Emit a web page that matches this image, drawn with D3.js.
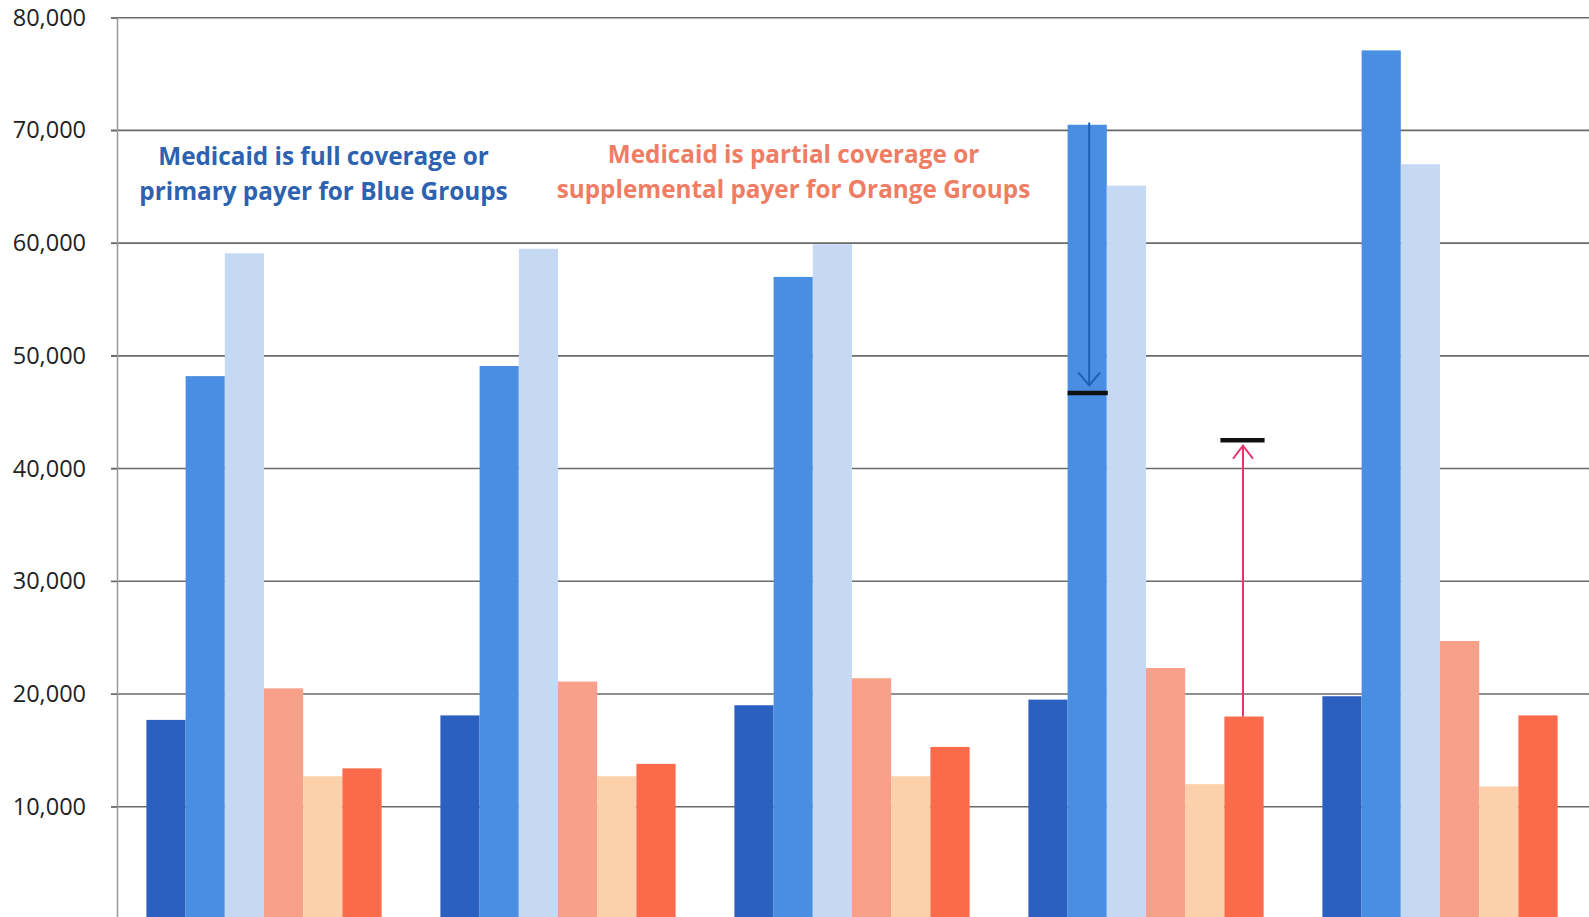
<!DOCTYPE html>
<html>
<head>
<meta charset="utf-8">
<script src="https://cdn.jsdelivr.net/npm/d3@7"></script>
<style>
  html, body { margin: 0; padding: 0; background: #fff; overflow: hidden; }
  svg { display: block; }
  .tick text { font-family: "Open Sans", sans-serif; font-size: 23.5px; fill: #222; }
  .note { font-family: "Open Sans", sans-serif; font-weight: 700; font-size: 24.3px; }
</style>
</head>
<body>
<svg id="chart" width="1589" height="917"></svg>
<script>
// groups along the x axis (labels are cut off in the source)
var groups = ["G1", "G2", "G3", "G4", "G5"];
var series = ["blue1", "blue2", "blue3", "orange1", "orange2", "orange3"];
var seriesColors = ["#2b5fc0", "#4a8ee3", "#c6d9f4", "#f9a08b", "#fcd0aa", "#fb6a4b"];

// values per series, one per group
var blue1 = [17700, 18100, 19000, 19500, 19800];
var blue2 = [48200, 49100, 57000, 70500, 77100];
var blue3 = [59100, 59500, 59900, 65100, 67000];
var orange1 = [20500, 21100, 21400, 22300, 24700];
var orange2 = [12700, 12700, 12700, 12000, 11800];
var orange3 = [13400, 13800, 15300, 18000, 18100];
var values = [blue1, blue2, blue3, orange1, orange2, orange3];

// the 0 label sits below the visible edge in the source
var yTicks = [10000, 20000, 30000, 40000, 50000, 60000, 70000, 80000];

// hand drawn marks on the 4th group
var blueArrowFrom = 70700, blueArrowTo = 46700;
var redArrowFrom = 18000, redArrowTo = 42500;

var svg = d3.select("#chart");

var x = d3.scaleBand().domain(groups).range([117, 1587])
    .paddingInner(0.2).paddingOuter(0.1);
var xs = d3.scaleBand().domain(series).range([0, x.bandwidth()]);
var y = d3.scaleLinear().domain([0, 80000]).range([919.4, 17.7]);

// gridlines
svg.append("g")
    .selectAll("line")
    .data(yTicks)
    .join("line")
    .attr("x1", 111)
    .attr("x2", 1589)
    .attr("y1", function (d) { return y(d); })
    .attr("y2", function (d) { return y(d); })
    .attr("stroke", "#6a6a6a")
    .attr("stroke-width", 1.6);

// y axis
var yAxis = svg.append("g")
    .attr("transform", "translate(117,0)")
    .call(d3.axisLeft(y).tickValues(yTicks).tickSize(6).tickPadding(25)
        .tickFormat(d3.format(",")));
yAxis.select(".domain").attr("stroke", "#999").attr("stroke-width", 1.5);
yAxis.selectAll(".tick line").attr("stroke", "#6a6a6a");

// bars
series.forEach(function (s, i) {
    svg.append("g")
        .selectAll("rect")
        .data(values[i])
        .join("rect")
        .attr("x", function (d, j) { return x(groups[j]) + xs(s); })
        .attr("y", function (d) { return y(d); })
        .attr("width", xs.bandwidth())
        .attr("height", function (d) { return y(0) - y(d); })
        .attr("fill", seriesColors[i]);
});

// annotation text
function note(cx, yTop, lines, color) {
    svg.append("text")
        .attr("class", "note")
        .attr("x", cx)
        .attr("y", yTop)
        .attr("text-anchor", "middle")
        .attr("fill", color)
        .selectAll("tspan")
        .data(lines)
        .join("tspan")
        .attr("x", cx)
        .attr("dy", function (d, i) { return i === 0 ? 0 : 35; })
        .text(function (d) { return d; });
}
note(323.5, 164.5, ["Medicaid is full coverage or", "primary payer for Blue Groups"], "#2c62b0");
note(793.5, 163, ["Medicaid is partial coverage or", "supplemental payer for Orange Groups"], "#ef7d63");

// arrows
function arrow(cx, from, to, color, head) {
    var y0 = y(from), y1 = y(to);
    var dir = y1 > y0 ? -1 : 1;
    svg.append("line")
        .attr("x1", cx).attr("x2", cx)
        .attr("y1", y0).attr("y2", y1 + dir * 2)
        .attr("stroke", color).attr("stroke-width", 2);
    svg.append("path")
        .attr("d", "M" + (cx - head) + "," + (y1 + dir * 15) + "L" + cx + "," + (y1 + dir * 2) +
            "L" + (cx + head) + "," + (y1 + dir * 15))
        .attr("fill", "none").attr("stroke", color).attr("stroke-width", 2);
}
function bar(x1, x2, v) {
    svg.append("line")
        .attr("x1", x1).attr("x2", x2)
        .attr("y1", y(v)).attr("y2", y(v))
        .attr("stroke", "#111").attr("stroke-width", 4.5);
}
var b2 = x("G4") + xs("blue2");
var o3 = x("G4") + xs("orange3");
arrow(b2 + xs.bandwidth() / 2 + 2, blueArrowFrom, blueArrowTo + 500, "#1f5fb5", 11);
bar(b2, b2 + xs.bandwidth() + 1, blueArrowTo);
arrow(o3 + xs.bandwidth() / 2 - 1, redArrowFrom, redArrowTo - 300, "#e8336b", 10);
bar(o3 - 4, o3 + xs.bandwidth() + 1, redArrowTo);
</script>
</body>
</html>
